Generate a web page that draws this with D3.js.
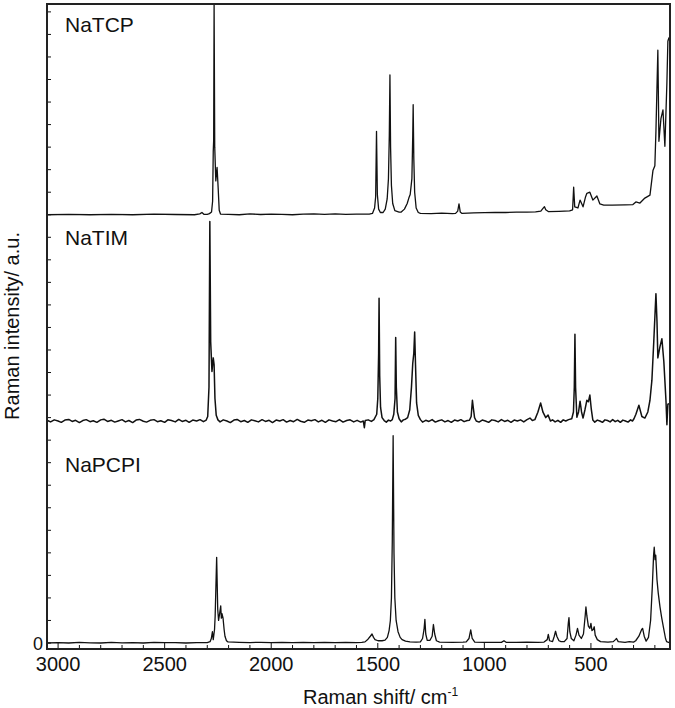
<!DOCTYPE html>
<html>
<head>
<meta charset="utf-8">
<script src="https://cdn.jsdelivr.net/npm/d3@7"></script>
<style>
  body { margin: 0; background: #fff; }
  text { font-family: "Liberation Sans", Arial, sans-serif; fill: #111; }
</style>
</head>
<body>
<svg width="675" height="708"></svg>
<script>
const svg = d3.select("svg");

// spectra: [Raman shift (cm-1), intensity (a.u.)]
const natcp = [
  [3052, 0], [2950, 0.02], [2850, 0], [2750, 0.02], [2650, 0], [2550, 0.03], [2450, 0.01],
  [2360, 0], [2335, 0.04], [2325, 0.1], [2316, 0.02], [2300, 0.02], [2290, 0.05],
  [2280, 0.12], [2275, 0.6], [2272, 2.8], [2270, 3.3], [2268, 9.35], [2265, 3.0],
  [2260, 1.5], [2254, 2.1], [2249, 1.2], [2244, 0.2], [2238, 0.03], [2200, 0.02],
  [2150, 0.0], [2100, 0.04], [2050, 0.01], [2000, 0.03], [1950, 0.02], [1900, 0.0],
  [1850, 0.03], [1800, 0.04], [1750, 0.02], [1700, 0.04], [1650, 0.02], [1600, 0.03],
  [1540, 0.03], [1525, 0.06], [1515, 0.3], [1510, 0.8], [1506, 3.7], [1502, 0.9],
  [1496, 0.25], [1488, 0.1], [1475, 0.1], [1465, 0.25], [1456, 0.7], [1450, 1.6],
  [1446, 3.5], [1443, 6.2], [1440, 3.0], [1436, 1.3], [1430, 0.5], [1420, 0.18],
  [1400, 0.12], [1390, 0.12], [1375, 0.25], [1362, 0.5], [1354, 0.75], [1348, 0.9],
  [1340, 1.6], [1336, 3.5], [1334, 4.88], [1331, 2.5], [1327, 1.0], [1320, 0.3],
  [1310, 0.1], [1300, 0.06], [1250, 0.05], [1200, 0.07], [1150, 0.05], [1135, 0.06],
  [1125, 0.16], [1119, 0.48], [1113, 0.12], [1105, 0.06], [1050, 0.08], [1000, 0.09],
  [950, 0.1], [900, 0.1], [850, 0.12], [800, 0.12], [760, 0.13], [735, 0.16],
  [725, 0.28], [718, 0.36], [712, 0.22], [700, 0.14], [650, 0.15], [600, 0.17],
  [586, 0.22], [581, 1.22], [576, 0.35], [561, 0.3], [551, 0.65], [537, 0.35],
  [525, 0.8], [519, 0.95], [505, 1.0], [491, 0.65], [472, 0.83], [458, 0.48],
  [440, 0.43], [400, 0.43], [340, 0.44], [303, 0.45], [289, 0.57], [270, 0.52],
  [247, 0.74], [223, 0.87], [209, 1.96], [200, 2.17], [195, 3.7], [186, 7.3],
  [181, 3.26], [171.5, 4.26], [162, 4.65], [153, 3.04], [143.5, 5.87], [139, 7.7],
  [134, 7.85], [129, 7.85]
];

const natim = [
  [3052, 0.03], [3035, -0.04], [3018, 0.05], [3000, 0.0], [2985, -0.06], [2968, 0.04],
  [2950, 0.07], [2934, -0.02], [2918, 0.03], [2900, -0.07], [2884, 0.02], [2868, 0.06],
  [2850, -0.03], [2835, 0.01], [2818, -0.06], [2800, 0.05], [2785, 0.08], [2768, -0.02],
  [2750, 0.03], [2734, -0.05], [2718, 0.0], [2700, 0.06], [2684, -0.04], [2668, 0.02],
  [2650, -0.07], [2634, 0.04], [2618, 0.07], [2600, -0.01], [2585, -0.05], [2568, 0.03],
  [2550, 0.06], [2534, -0.03], [2518, 0.01], [2500, -0.06], [2485, 0.05], [2468, 0.02],
  [2450, -0.04], [2434, 0.07], [2418, -0.02], [2400, 0.03], [2385, -0.06], [2368, 0.04],
  [2350, 0.0], [2334, 0.06], [2318, -0.03], [2305, 0.04], [2298, 0.2], [2292, 1.5],
  [2288, 8.85], [2284, 3.5], [2278, 2.2], [2272, 2.8], [2268, 2.5], [2264, 1.0],
  [2258, 0.25], [2250, 0.05], [2240, -0.04], [2225, 0.05], [2208, 0.0], [2192, -0.07],
  [2175, 0.04], [2160, 0.07], [2143, -0.03], [2126, 0.02], [2110, -0.06], [2093, 0.05],
  [2077, 0.01], [2060, -0.04], [2043, 0.06], [2027, -0.02], [2010, 0.03], [1994, -0.07],
  [1977, 0.04], [1960, 0.0], [1944, 0.06], [1928, -0.05], [1911, 0.02], [1895, -0.03],
  [1878, 0.07], [1862, -0.01], [1845, -0.06], [1828, 0.04], [1812, 0.01], [1795, 0.06],
  [1779, -0.04], [1762, 0.03], [1746, -0.06], [1729, 0.05], [1712, 0.0], [1696, -0.03],
  [1680, 0.06], [1663, -0.05], [1646, 0.02], [1630, 0.05], [1613, -0.04], [1597, 0.03],
  [1580, -0.05], [1568, 0.0], [1563, -0.3], [1559, 0.02], [1545, 0.05], [1530, -0.02],
  [1518, 0.06], [1505, 0.3], [1500, 1.0], [1496, 3.0], [1494, 5.45], [1491, 2.0],
  [1487, 0.6], [1480, 0.15], [1470, 0.02], [1460, -0.05], [1450, 0.04], [1440, 0.0],
  [1432, 0.06], [1425, 0.3], [1419, 1.0], [1416, 3.7], [1413, 1.5], [1408, 0.4],
  [1400, 0.1], [1390, -0.04], [1380, 0.05], [1370, 0.08], [1360, 0.15], [1350, 0.5],
  [1342, 1.5], [1336, 2.55], [1331, 3.0], [1327, 3.95], [1323, 2.5], [1318, 0.8],
  [1310, 0.25], [1300, 0.06], [1290, -0.05], [1275, 0.03], [1260, -0.02], [1245, 0.06],
  [1230, -0.05], [1215, 0.01], [1200, 0.05], [1185, -0.04], [1170, 0.02], [1155, -0.06],
  [1140, 0.04], [1125, 0.0], [1110, 0.06], [1095, -0.03], [1080, 0.02], [1070, 0.03],
  [1062, 0.2], [1056, 0.92], [1052, 0.6], [1046, 0.15], [1038, 0.0], [1025, -0.05],
  [1010, 0.04], [995, 0.0], [980, -0.06], [965, 0.05], [950, 0.02], [935, -0.04],
  [920, 0.06], [905, -0.02], [890, 0.03], [875, -0.06], [860, 0.04], [845, 0.0],
  [830, 0.05], [815, -0.04], [800, 0.06], [786, 0.13], [775, 0.02], [763, 0.06],
  [749, 0.39], [736, 0.8], [725, 0.39], [712, 0.15], [701, 0.26], [690, 0.0],
  [680, 0.05], [668, -0.04], [655, 0.03], [642, -0.06], [630, 0.05], [618, 0.0],
  [605, 0.06], [590, 0.1], [582, 0.4], [578, 1.5], [575, 3.85], [572, 1.5],
  [566, 0.17], [558, 0.4], [551, 0.88], [544, 0.4], [537, 0.13], [528, 0.5],
  [519, 0.92], [512, 0.85], [505, 1.15], [498, 0.5], [491, 0.04], [482, -0.05],
  [470, 0.04], [458, 0.0], [446, -0.06], [434, 0.05], [422, 0.02], [410, -0.04],
  [398, 0.06], [386, -0.03], [374, 0.03], [362, -0.06], [350, 0.04], [338, 0.0],
  [326, -0.05], [314, 0.05], [305, 0.0], [298, 0.1], [289, 0.3], [275, 0.7],
  [261, 0.2], [247, 0.13], [233, 0.4], [223, 0.92], [214, 1.8], [205, 3.55],
  [195, 5.65], [190, 4.4], [186, 2.8], [176, 3.3], [167, 3.65], [158, 2.65],
  [148, 0.92], [143.5, -0.17], [139, 0.74], [129, 0.78]
];

const napcpi = [
  [3052, 0], [3000, 0.02], [2950, 0], [2900, 0.03], [2850, 0.01], [2800, 0], [2750, 0.03],
  [2700, 0.01], [2650, 0.02], [2600, 0], [2550, 0.03], [2500, 0.02], [2450, 0.02],
  [2400, 0.0], [2350, 0.02], [2300, 0.02], [2287, 0.06], [2281, 0.2], [2276, 0.5],
  [2272, 0.15], [2266, 0.6], [2263, 1.2], [2256, 3.8], [2251, 1.5], [2247, 1.0],
  [2242, 1.3], [2237, 1.65], [2234, 1.1], [2231, 1.3], [2226, 1.1], [2221, 0.6],
  [2217, 0.3], [2210, 0.1], [2203, 0.05], [2150, 0.03], [2100, 0.02], [2050, 0.03],
  [2000, 0.02], [1950, 0.03], [1900, 0.02], [1850, 0.03], [1800, 0.02], [1750, 0.03],
  [1700, 0.02], [1650, 0.03], [1600, 0.02], [1575, 0.03], [1560, 0.05], [1546, 0.17],
  [1535, 0.3], [1527, 0.4], [1520, 0.25], [1513, 0.15], [1499, 0.1], [1480, 0.1],
  [1466, 0.13], [1455, 0.25], [1447, 0.55], [1441, 1.0], [1436, 2.0], [1432, 4.5],
  [1428, 9.2], [1424, 4.0], [1420, 2.0], [1414, 1.0], [1405, 0.5], [1395, 0.25],
  [1386, 0.15], [1370, 0.08], [1349, 0.05], [1320, 0.04], [1300, 0.05], [1290, 0.2],
  [1283, 0.6], [1279, 1.05], [1275, 0.4], [1268, 0.12], [1255, 0.12], [1245, 0.3],
  [1239, 0.82], [1233, 0.4], [1225, 0.1], [1210, 0.04], [1150, 0.03], [1100, 0.04],
  [1085, 0.05], [1072, 0.2], [1064, 0.58], [1057, 0.2], [1045, 0.04], [1000, 0.03],
  [950, 0.03], [920, 0.03], [908, 0.1], [898, 0.03], [850, 0.03], [800, 0.04],
  [750, 0.03], [720, 0.04], [705, 0.15], [700, 0.38], [694, 0.1], [680, 0.06],
  [672, 0.3], [666, 0.52], [660, 0.3], [650, 0.1], [640, 0.06], [625, 0.06],
  [612, 0.2], [606, 0.9], [603, 1.13], [599, 0.5], [592, 0.2], [580, 0.1],
  [570, 0.35], [563, 0.65], [556, 0.35], [545, 0.2], [535, 0.4], [527, 1.2],
  [523.5, 1.6], [519, 1.2], [512, 0.75], [505, 0.65], [500, 0.87], [495, 0.55],
  [489, 0.6], [484.5, 0.72], [480, 0.35], [470, 0.15], [455, 0.06], [420, 0.04],
  [395, 0.06], [385, 0.15], [380, 0.2], [372, 0.06], [340, 0.03], [320, 0.06],
  [300, 0.04], [290, 0.1], [275, 0.3], [262, 0.6], [257.5, 0.65], [250, 0.3],
  [241, 0.08], [230, 0.25], [220, 1.0], [212, 2.5], [206, 3.9], [203, 4.25],
  [199, 3.7], [196, 3.9], [190, 2.8], [184, 2.2], [176, 1.6], [168.5, 1.15],
  [160, 0.7], [150, 0.2], [145, 0.06], [129, 0.0]
];

const spectra = [natcp, natim, napcpi];
const sampleNames = ["NaTCP", "NaTIM", "NaPCPI"];
const offsets = [19.0, 9.85, 0];            // vertical stacking of each trace
const xTicks = [3000, 2500, 2000, 1500, 1000, 500];
const yTicks = d3.range(0, 29);              // unlabelled inward ticks, only 0 labelled

// frame of the plot
const plotLeft = 47, plotRight = 670, plotTop = 4, plotBottom = 649;

const x = d3.scaleLinear().domain([3052, 129]).range([plotLeft, plotRight]);
const y = d3.scaleLinear().domain([-0.266, 28.35]).range([plotBottom, plotTop]);

svg.append("clipPath").attr("id", "clip")
  .append("rect")
  .attr("x", plotLeft).attr("y", plotTop)
  .attr("width", plotRight - plotLeft).attr("height", plotBottom - plotTop);

// spectra
const line = d3.line()
  .x(d => x(d[0]))
  .y(d => d[1]);

const traces = svg.append("g").attr("clip-path", "url(#clip)");
spectra.forEach((data, i) => {
  traces.append("path")
    .datum(data.map(d => [d[0], y(d[1] + offsets[i])]))
    .attr("fill", "none")
    .attr("stroke", "#111")
    .attr("stroke-width", i === 1 ? 1.5 : 1.3)
    .attr("stroke-linejoin", "round")
    .attr("d", line);
});

// bottom axis: major ticks labelled, minor every 100, pointing inward
const xMinor = d3.range(3000, 100, -100);
svg.append("g")
  .selectAll("line")
  .data(xMinor)
  .join("line")
  .attr("x1", d => x(d)).attr("x2", d => x(d))
  .attr("y1", plotBottom).attr("y2", d => xTicks.includes(d) ? plotBottom - 6 : plotBottom - 4)
  .attr("stroke", "#111").attr("stroke-width", 1);

svg.append("g")
  .selectAll("text")
  .data(xTicks)
  .join("text")
  .attr("x", d => x(d))
  .attr("y", 671)
  .attr("text-anchor", "middle")
  .attr("font-size", 20)
  .text(d => d);

// left axis ticks inward
svg.append("g")
  .selectAll("line")
  .data(yTicks)
  .join("line")
  .attr("x1", plotLeft).attr("x2", plotLeft + 4)
  .attr("y1", d => y(d)).attr("y2", d => y(d))
  .attr("stroke", "#111").attr("stroke-width", 1);

svg.append("text")
  .attr("x", 43)
  .attr("y", y(0) + 7)
  .attr("text-anchor", "end")
  .attr("font-size", 18)
  .text("0");

// box
svg.append("rect")
  .attr("x", plotLeft).attr("y", plotTop)
  .attr("width", plotRight - plotLeft).attr("height", plotBottom - plotTop)
  .attr("fill", "none")
  .attr("stroke", "#222")
  .attr("stroke-width", 2);

// sample names
const nameY = [32, 245, 472];
svg.append("g")
  .selectAll("text")
  .data(sampleNames)
  .join("text")
  .attr("x", 65)
  .attr("y", (d, i) => nameY[i])
  .attr("font-size", 21)
  .text(d => d);

// axis titles
const xt = svg.append("text")
  .attr("x", 303)
  .attr("y", 704)
  .attr("font-size", 20);
xt.append("tspan").text("Raman shift/ cm");
xt.append("tspan").attr("font-size", 12).attr("dy", -8).text("-1");

svg.append("text")
  .attr("transform", "translate(19,326) rotate(-90)")
  .attr("text-anchor", "middle")
  .attr("font-size", 20)
  .text("Raman intensity/ a.u.");
</script>
</body>
</html>
